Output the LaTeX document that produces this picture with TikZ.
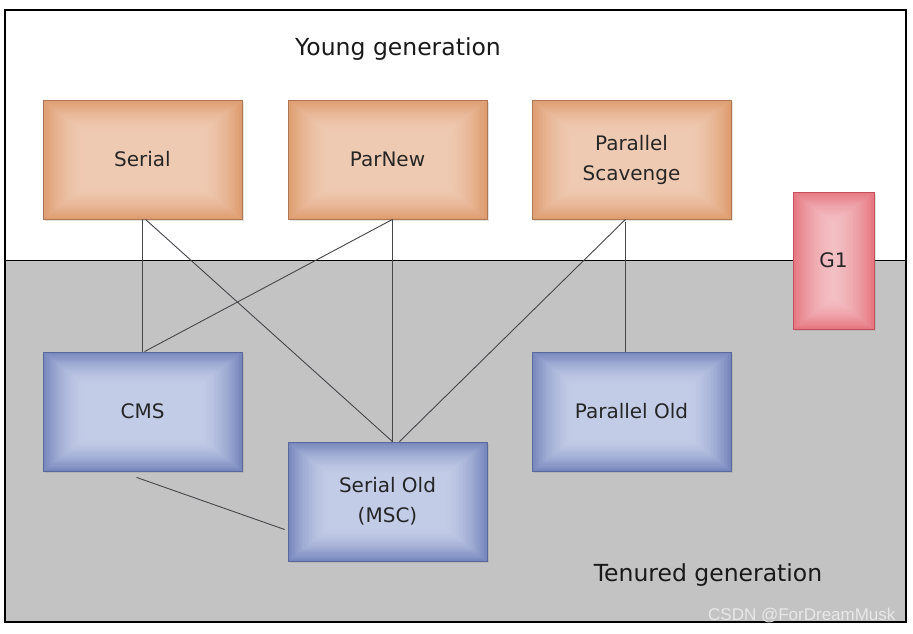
\documentclass[tikz,border=0pt]{standalone}
\usepackage{fontspec}
\setmainfont{DejaVu Sans}
\newfontfamily\markfont{Liberation Sans}
\usetikzlibrary{shadows,calc}
\definecolor{oldgray}{RGB}{195,195,195}
\definecolor{linegray}{RGB}{70,70,75}
\definecolor{orangein}{RGB}{239,202,178}
\definecolor{orangeout}{RGB}{222,156,110}
\definecolor{orangeedge}{RGB}{175,120,85}
\definecolor{bluein}{RGB}{194,204,231}
\definecolor{blueout}{RGB}{118,134,188}
\definecolor{blueedge}{RGB}{90,105,155}
\definecolor{pinkin}{RGB}{243,192,196}
\definecolor{pinkout}{RGB}{230,118,128}
\definecolor{pinkedge}{RGB}{195,80,90}
\definecolor{marktext}{RGB}{232,232,232}
\tikzset{
  % rectangular glow: nested insets blending from the outer colour to the inner one
  glow/.style n args={2}{path picture={
    \foreach \k in {0,...,30} {
      \pgfmathsetmacro\p{100*(1-\k/30)^1.7}
      \fill[#2!\p!#1]
        ($(path picture bounding box.south west)+(\k*1.4,-\k*1.1)$) rectangle
        ($(path picture bounding box.north east)+(-\k*1.4,\k*1.1)$);
    }}},
  gcbox/.style={minimum width=199pt, minimum height=119pt, align=center,
    line width=0.8pt, font=\fontsize{20}{30}\selectfont, text=black!85,
    drop shadow={opacity=0.22, shadow xshift=2pt, shadow yshift=-2pt}},
  youngbox/.style={gcbox, draw=orangeedge, fill=orangein, glow={orangein}{orangeout}},
  oldbox/.style={gcbox, draw=blueedge, fill=bluein, glow={bluein}{blueout}},
  g1box/.style={gcbox, minimum width=81pt, minimum height=137pt,
    draw=pinkedge, fill=pinkin, glow={pinkin}{pinkout}},
  link/.style={draw=linegray, line width=0.9pt},
  title/.style={font=\fontsize{23.5}{28}\selectfont, text=black!90}
}
\begin{document}
\begin{tikzpicture}[x=1pt,y=-1pt]
  \useasboundingbox (0,0) rectangle (913,634);
  \fill[white] (0,0) rectangle (913,634);
  % tenured area and frame
  \fill[oldgray] (5,260) rectangle (906,622);
  \draw[line width=1.2pt] (5,10) rectangle (906,622);
  \draw[line width=0.9pt] (5,260) -- (906,260);

  % young generation collectors
  \node[youngbox] (serial)   at (142.5,159.5) {Serial};
  \node[youngbox] (parnew)   at (387.5,159.5) {ParNew};
  \node[youngbox] (pscav)    at (631.5,159.5) {Parallel\\Scavenge};
  % whole-heap collector
  \node[g1box]    (g1)       at (833.5,260.5) {G1};
  % tenured generation collectors
  \node[oldbox]   (cms)      at (142.5,411.5) {CMS};
  \node[oldbox]   (serialold) at (387.5,501.5) {Serial Old\\(MSC)};
  \node[oldbox]   (pold)     at (631.5,411.5) {Parallel Old};

  % generation labels
  \node[title] (younglbl)  at (398,49)  {Young generation};
  \node[title] (tenurelbl) at (708,575) {Tenured generation};

  % collector pairings
  \draw[link] (serial.south) -- (cms.north);
  \draw[link] ($(serial.south)+(3,0)$) -- ($(serialold.north)+(5,0)$);
  \draw[link] ($(parnew.south)+(5,0)$) -- ($(cms.north)+(2,0)$);
  \draw[link] ($(parnew.south)+(5,0)$) -- ($(serialold.north)+(5,0)$);
  \draw[link] ($(pscav.south)+(-6,0)$) -- ($(serialold.north)+(12,0)$);
  \draw[link] ($(pscav.south)+(-6,3)$) -- ($(pold.north)+(-6,0)$);
  \draw[link] ($(cms.south)+(-6,6)$) -- ($(serialold.west)+(-3,28)$);

  % author mark
  \node[font=\markfont\fontsize{17}{19}\selectfont, text=marktext, anchor=east]
    (mark) at (899,616) {CSDN @ForDreamMusk};
\end{tikzpicture}
\end{document}
